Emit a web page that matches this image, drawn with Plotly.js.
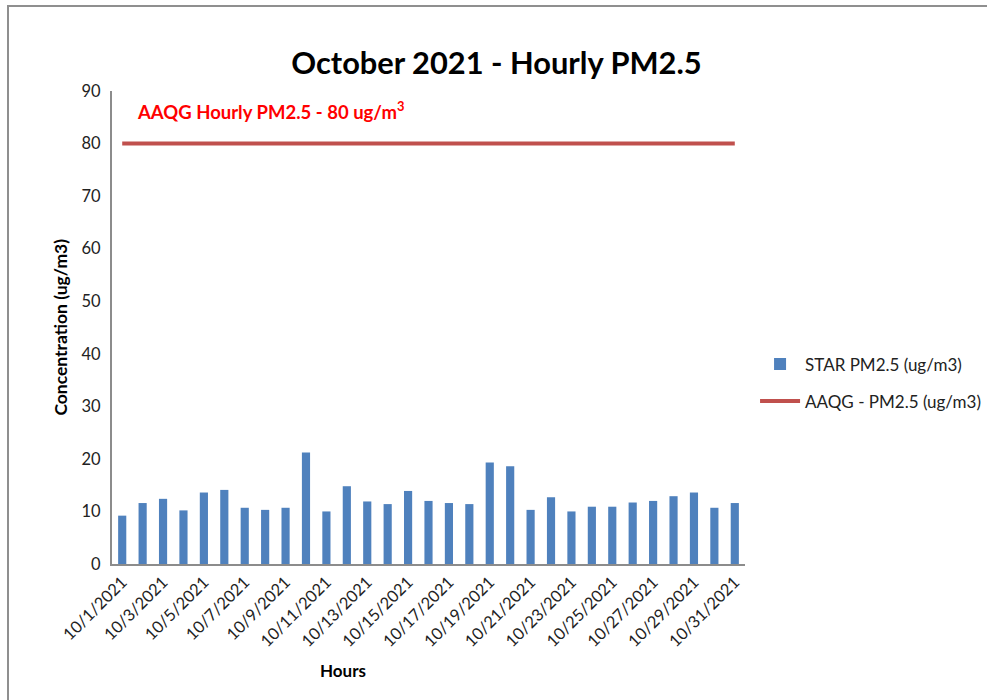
<!DOCTYPE html>
<html>
<head>
<meta charset="utf-8">
<script src="https://cdn.plot.ly/plotly-3.0.1.min.js"></script>
<style>
  html, body { margin: 0; padding: 0; background: #fff; }
  #chart { width: 987px; height: 700px; }
  #frame { position: absolute; left: 7px; top: 5px; width: 1100px; height: 1000px;
           border-left: 2px solid #8f8f8f; border-top: 2px solid #8f8f8f; pointer-events: none; }
</style>
</head>
<body>
<div id="chart"></div>
<div id="frame"></div>
<script>
const dates = [
  "10/1/2021","10/2/2021","10/3/2021","10/4/2021","10/5/2021","10/6/2021","10/7/2021","10/8/2021",
  "10/9/2021","10/10/2021","10/11/2021","10/12/2021","10/13/2021","10/14/2021","10/15/2021","10/16/2021",
  "10/17/2021","10/18/2021","10/19/2021","10/20/2021","10/21/2021","10/22/2021","10/23/2021","10/24/2021",
  "10/25/2021","10/26/2021","10/27/2021","10/28/2021","10/29/2021","10/30/2021","10/31/2021"
];
const starPM25 = [
  9.2, 11.6, 12.4, 10.2, 13.6, 14.1, 10.7, 10.3, 10.7, 21.2, 10.0, 14.8, 11.9, 11.4, 13.9, 12.0,
  11.6, 11.4, 19.3, 18.6, 10.3, 12.7, 10.0, 10.9, 10.9, 11.7, 12.0, 12.9, 13.6, 10.7, 11.6
];
const aaqgPM25 = [
  80, 80, 80, 80, 80, 80, 80, 80, 80, 80, 80, 80, 80, 80, 80, 80,
  80, 80, 80, 80, 80, 80, 80, 80, 80, 80, 80, 80, 80, 80, 80
];
const tickDates = [
  "10/1/2021","10/3/2021","10/5/2021","10/7/2021","10/9/2021","10/11/2021","10/13/2021","10/15/2021",
  "10/17/2021","10/19/2021","10/21/2021","10/23/2021","10/25/2021","10/27/2021","10/29/2021","10/31/2021"
];
const yTicks = [0, 10, 20, 30, 40, 50, 60, 70, 80, 90];

const FONT = "Lato, 'Open Sans', 'Liberation Sans', sans-serif";

const traces = [
  {
    type: "bar", x: dates, y: starPM25, name: "STAR PM2.5 (ug/m3)",
    marker: { color: "#4F81BD" }, legendgroup: "a"
  },
  {
    type: "scatter", mode: "lines", x: dates, y: aaqgPM25, name: "AAQG - PM2.5 (ug/m3)",
    line: { color: "#C0504D", width: 4 }, legendgroup: "b"
  }
];

const layout = {
  width: 987, height: 700,
  margin: { l: 112, r: 242, t: 91, b: 136 },
  paper_bgcolor: "#fff", plot_bgcolor: "#fff",
  font: { family: FONT, color: "#222", size: 16 },
  title: {
    text: "<b>October 2021 - Hourly PM2.5</b>",
    font: { family: FONT, size: 30.8, color: "#000" },
    x: 0.503, xref: "container", y: 0.909, yref: "container", yanchor: "middle"
  },
  bargap: 0.6,
  showlegend: true,
  legend: {
    xref: "container", yref: "container",
    x: 0.765, xanchor: "left", y: 0.453, yanchor: "middle",
    font: { family: FONT, size: 17, color: "#222" },
    traceorder: "grouped", tracegroupgap: 12, itemwidth: 40
  },
  xaxis: {
    type: "category",
    tickmode: "array", tickvals: tickDates, ticktext: tickDates,
    tickangle: -45, ticks: "", showgrid: false,
    showline: true, linecolor: "#8c8c8c", linewidth: 2,
    tickfont: { family: FONT, size: 16.5, color: "#222" },
    automargin: false
  },
  yaxis: {
    range: [0, 90], tickmode: "array", tickvals: yTicks,
    ticks: "", showgrid: false, zeroline: false,
    showline: true, linecolor: "#8c8c8c", linewidth: 2,
    tickfont: { family: FONT, size: 16.5, color: "#222" },
    ticklabelstandoff: 6,
    automargin: false
  },
  annotations: [
    {
      text: "<b>AAQG Hourly PM2.5 - 80 ug/m<sup>3</sup></b>",
      xref: "paper", yref: "y", x: 0.037, y: 86.3, xanchor: "left", yanchor: "middle",
      showarrow: false, font: { family: FONT, size: 18.5, color: "#FF0000" }
    },
    {
      text: "<b>Hours</b>",
      xref: "paper", yref: "paper", x: 0.365, y: -0.226, xanchor: "center", yanchor: "middle",
      showarrow: false, font: { family: FONT, size: 17, color: "#000" }
    },
    {
      text: "<b>Concentration (ug/m3)</b>",
      xref: "paper", yref: "paper", x: -0.082, y: 0.5, xanchor: "center", yanchor: "middle",
      textangle: -90, showarrow: false, font: { family: FONT, size: 17.5, color: "#000" }
    }
  ]
};

Plotly.newPlot("chart", traces, layout, { displayModeBar: false, staticPlot: true });
</script>
</body>
</html>
